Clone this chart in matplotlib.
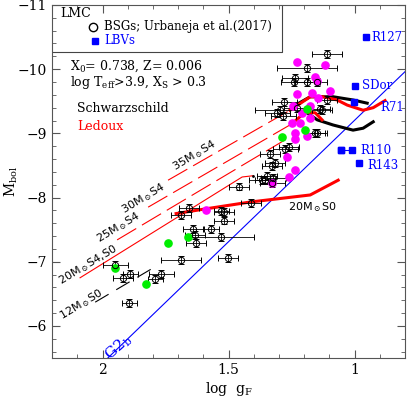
import numpy as np
import matplotlib.pyplot as plt
from matplotlib.ticker import MultipleLocator, FuncFormatter

plt.rcParams['font.family'] = ['DejaVu Serif']
plt.rcParams['mathtext.fontset'] = 'dejavuserif'

# BSGs, Urbaneja et al. (2017): log gF, Mbol, error in log gF
bsg_logg = [1.950, 1.890, 1.918, 1.767, 1.791, 1.894, 1.688, 1.640, 1.633, 1.629,
            1.569, 1.656, 1.688, 1.529, 1.517, 1.517, 1.529, 1.502, 1.458, 1.410,
            1.347, 1.355, 1.315, 1.327, 1.367, 1.323, 1.335, 1.275, 1.260, 1.156,
            1.148, 1.295, 1.228, 1.137, 1.129, 1.279, 1.109, 1.236, 1.240, 1.188,
            1.148, 1.188, 1.109, 1.307, 1.283, 1.327]
bsg_mbol = [-6.95, -6.81, -6.75, -6.81, -6.73, -6.36, -7.03, -7.51, -7.42, -7.29,
            -7.51, -7.84, -7.73, -7.79, -7.78, -7.64, -7.39, -7.06, -8.17, -7.92,
            -8.34, -8.27, -8.54, -8.49, -8.27, -8.31, -8.68, -8.76, -8.79, -9.01,
            -9.01, -9.36, -9.40, -9.38, -9.36, -9.49, -9.52, -9.86, -9.80, -9.80,
            -9.80, -10.02, -10.24, -9.32, -9.27, -8.23]
bsg_xerr = [0.05, 0.03, 0.04, 0.05, 0.03, 0.03, 0.08, 0.04, 0.04, 0.04,
            0.03, 0.04, 0.04, 0.03, 0.04, 0.04, 0.13, 0.04, 0.04, 0.04,
            0.04, 0.04, 0.04, 0.04, 0.05, 0.05, 0.04, 0.05, 0.04, 0.04,
            0.04, 0.10, 0.05, 0.04, 0.04, 0.05, 0.04, 0.05, 0.05, 0.05,
            0.04, 0.12, 0.06, 0.05, 0.05, 0.05]

mag_logg = [1.228, 1.117, 1.156, 1.148, 1.228, 1.168, 1.097, 1.144, 1.244, 1.176, 1.208,
            1.176, 1.248, 1.216, 1.236, 1.236, 1.188, 1.267, 1.236, 1.260, 1.327, 1.589]
mag_mbol = [-10.11, -10.07, -9.88, -9.82, -9.61, -9.63, -9.66, -9.55, -9.43, -9.43, -9.32,
            -9.24, -9.16, -9.16, -9.01, -8.91, -8.96, -8.63, -8.43, -8.32, -8.23, -7.81]

green_logg = [1.950, 1.827, 1.740, 1.660, 1.188, 1.196, 1.287]
green_mbol = [-6.90, -6.65, -7.29, -7.39, -9.38, -9.05, -8.94]

# LBVs
lbv_names = ['R127', 'SDor', 'R71', 'R110', 'R143']
lbv_logg = [0.954, 0.998, 1.002, 1.053, 0.982]
lbv_mbol = [-10.50, -9.74, -9.49, -8.74, -8.54]
r110_logg = [1.053, 1.010]
r110_mbol = [-8.74, -8.74]

# evolutionary tracks (log gF, Mbol)
t35_logg = [1.740, 1.256]
t35_mbol = [-8.27, -9.36]
t35_led_logg = [1.256, 1.176, 1.125, 1.069, 1.029, 0.966, 0.926, 0.879]
t35_led_mbol = [-9.36, -9.57, -9.57, -9.52, -9.44, -9.36, -9.40, -9.51]
t35_sch_logg = [1.230, 1.176, 1.085, 1.006, 0.950]
t35_sch_mbol = [-9.45, -9.57, -9.57, -9.52, -9.47]

t30_logg = [1.819, 1.248]
t30_mbol = [-7.85, -9.15]
t30_led_logg = [1.248, 1.196, 1.156, 1.129]
t30_led_mbol = [-9.15, -9.33, -9.32, -9.21]
t30_sch_logg = [1.210, 1.188, 1.148, 1.085, 1.006, 0.966, 0.926]
t30_sch_mbol = [-9.30, -9.32, -9.21, -9.13, -9.05, -9.08, -9.18]

t25_logg = [1.942, 1.275]
t25_mbol = [-7.34, -8.90]

t20_logg = [2.089, 1.446, 1.402]
t20_mbol = [-6.75, -8.32, -8.34]
t20s0_logg = [1.708, 1.613, 1.414, 1.176, 1.065]
t20s0_mbol = [-7.75, -7.81, -7.93, -8.04, -8.27]

t12_logg = [2.029, 1.779]
t12_mbol = [-6.37, -6.95]

g2b_logg = [2.0, 0.8]
g2b_mbol = [-5.42, -9.96]

fig = plt.figure(figsize=(4.07, 3.98), dpi=100)
ax = fig.add_axes([0.128, 0.1005, 0.867, 0.887])

red = '#ff0000'
blue = '#0000ff'
ax.plot(g2b_logg, g2b_mbol, color=blue, lw=0.8)

ax.plot(t35_logg, t35_mbol, color=red, lw=0.8, dashes=(20, 6))
ax.plot(t30_logg, t30_mbol, color=red, lw=0.8, dashes=(20, 6))
ax.plot(t25_logg, t25_mbol, color=red, lw=0.8, dashes=(20, 6))
ax.plot(t20_logg, t20_mbol, color=red, lw=0.8)
ax.plot(t20_logg[-1:], t20_mbol[-1:], 'k.', ms=2)
ax.plot(t12_logg, t12_mbol, color='k', lw=0.8, dashes=(14, 8))

ax.plot(t20s0_logg, t20s0_mbol, color=red, lw=2.2)
ax.plot(t35_sch_logg, t35_sch_mbol, color='k', lw=2.2)
ax.plot(t30_sch_logg, t30_sch_mbol, color='k', lw=2.2)
ax.plot(t35_led_logg, t35_led_mbol, color=red, lw=2.2)
ax.plot(t30_led_logg, t30_led_mbol, color=red, lw=2.2)

ax.errorbar(bsg_logg, bsg_mbol, xerr=bsg_xerr, yerr=0.06, fmt='o', mfc='none',
            mec='k', ms=4.5, mew=0.7, ecolor='k', elinewidth=0.6, capsize=2, capthick=0.6)
ax.plot(mag_logg, mag_mbol, 'o', color='#ff00ff', ms=5.2)
ax.plot(green_logg, green_mbol, 'o', color='#00ee00', ms=5.2)

ax.plot(r110_logg, r110_mbol, color=blue, lw=0.8)
ax.plot(r110_logg, r110_mbol, 's', color=blue, ms=4.8)
ax.plot(lbv_logg, lbv_mbol, 's', color=blue, ms=4.8)
lbv_offsets = [(4, 0), (5, 0), (19, -4), (6, 0), (6, -2)]
for name, x, y, off in zip(lbv_names, lbv_logg, lbv_mbol, lbv_offsets):
    if name == 'R110':
        x = r110_logg[1]
    ax.annotate(name, (x, y), xytext=off, textcoords='offset points',
                color=blue, fontsize=8.5, ha='left', va='center')

# track labels
lab = dict(fontsize=8, ha='center', va='center', family='DejaVu Sans')
ax.text(1.633, -8.66, r'35M$_\odot$S4', rotation=31, **lab)
ax.text(1.839, -7.98, r'30M$_\odot$S4', rotation=31, **lab)
ax.text(1.938, -7.53, r'25M$_\odot$S4', rotation=31, **lab)
ax.text(2.057, -6.95, r'20M$_\odot$S4,S0', rotation=31, **lab)
ax.text(2.085, -6.34, r'12M$_\odot$S0', rotation=31, **lab)
ax.text(1.168, -7.85, r'20M$_\odot$S0', **lab)
ax.text(1.938, -5.67, r'G2$_{\rm b}$', rotation=42, fontsize=11, color=blue,
        ha='center', va='center')

# legend box
ax.plot([0, 0.651, 0.651], [0.867, 0.867, 1], transform=ax.transAxes, color='#444444', lw=0.8)
ax.text(0.023, 0.977, 'LMC', transform=ax.transAxes, fontsize=9, va='center')
ax.plot([0.116], [0.938], 'o', mfc='none', mec='k', ms=6, transform=ax.transAxes)
ax.text(0.147, 0.938, 'BSGs; Urbaneja et al.(2017)', transform=ax.transAxes,
        fontsize=8.5, va='center')
ax.plot([0.122], [0.898], 's', color=blue, ms=4.5, transform=ax.transAxes)
ax.text(0.147, 0.898, 'LBVs', transform=ax.transAxes, fontsize=8.5, va='center', color=blue)

ax.text(0.051, 0.827, r'X$_0$= 0.738, Z= 0.006', transform=ax.transAxes, fontsize=9, va='center')
ax.text(0.051, 0.779, r'log T$_{\rm eff}$>3.9, X$_{\rm S}$ > 0.3', transform=ax.transAxes,
        fontsize=9, va='center')
ax.text(0.071, 0.708, 'Schwarzschild', transform=ax.transAxes, fontsize=9, va='center')
ax.text(0.071, 0.657, 'Ledoux', transform=ax.transAxes, fontsize=9, va='center', color=red)

ax.set_xlim(2.2, 0.8)
ax.set_ylim(-5.5, -11)
ax.xaxis.set_major_locator(MultipleLocator(0.5))
ax.xaxis.set_minor_locator(MultipleLocator(0.1))
ax.yaxis.set_major_locator(MultipleLocator(1))
ax.yaxis.set_minor_locator(MultipleLocator(0.2))
fmt = FuncFormatter(lambda v, _: f'{v:g}'.replace('-', '\u2212'))
ax.xaxis.set_major_formatter(fmt)
ax.yaxis.set_major_formatter(fmt)
ax.tick_params(which='both', direction='in', top=True, right=True, labelsize=10, color='#555555')
ax.tick_params(which='major', length=6)
ax.tick_params(which='minor', length=3)
for s in ax.spines.values():
    s.set_color('#555555')
ax.set_xlabel(r'log  g$_{\rm F}$', fontsize=10, labelpad=2)
ax.set_ylabel(r'M$_{\rm bol}$', fontsize=10)
ax.yaxis.set_label_coords(-0.09, 0.5)

fig.savefig('out.png', dpi=100)
